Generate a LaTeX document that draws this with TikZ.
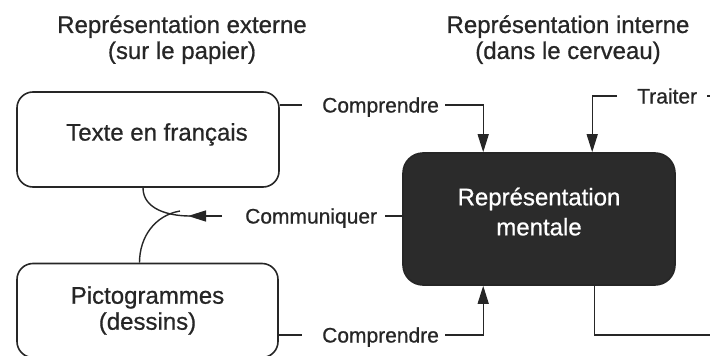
\documentclass[tikz,border=0pt]{standalone}
\usepackage{fontspec}
\setmainfont{Liberation Sans}
\newfontfamily\epais{Liberation Sans}[FakeBold=0.7]
\usetikzlibrary{arrows.meta,positioning}

\tikzset{
  boite/.style={draw=black!85, line width=1.6pt, rounded corners=16pt, inner sep=0pt},
  grand/.style={font=\epais\fontsize{24}{26}\selectfont, text=black!85, align=center, inner sep=0pt},
  titre/.style={grand},
  petit/.style={font=\epais\fontsize{21}{22}\selectfont, text=black!85, inner sep=0pt, text height=15pt, text depth=0pt},
  lien/.style={draw=black!85, line width=1.4pt},
  fleche/.style={lien, -{Triangle[length=18pt,width=11pt]}},
}

\begin{document}
\begin{tikzpicture}[x=1pt,y=-1pt]
\useasboundingbox (0,0) rectangle (710,356);
\clip (0,0) rectangle (710,356);

\node[titre] (externe) at (182,39.6) {Représentation externe\\(sur le papier)};
\node[titre] (interne) at (568,39.6) {Représentation interne\\(dans le cerveau)};

\begin{scope}
\node[boite, minimum width=262pt, minimum height=95pt] (texte) at (148,139.5) {};
\node[grand, text height=17.2pt, text depth=0pt] (texteLbl) at (157,132) {Texte en français};
\node[boite, grand, minimum width=261pt, minimum height=94pt] (picto) at (147.5,310.5) {Pictogrammes\\(dessins)};
\end{scope}

\node[boite, grand, fill=black!83, text=white, rounded corners=20pt,
      minimum width=272pt, minimum height=132pt, text depth=15pt,
      font=\epais\fontsize{24}{30}\selectfont] (mentale) at (539,219) {Représentation\\mentale};

\node[petit, anchor=west] (comprendreA) at (322,105) {Comprendre};
\node[petit, anchor=west] (communiquer) at (245,216) {Communiquer};
\node[petit, anchor=west] (comprendreB) at (322,335) {Comprendre};
\node[petit, anchor=west] (traiter) at (637,96) {Traiter};
\coordinate (jonction) at (188,216);
\coordinate (bordA) at (716,96);
\coordinate (bordB) at (716,335);

\draw[lien] (texte.east |- comprendreA) -- ([xshift=-20]comprendreA.west);
\draw[fleche] ([xshift=6]comprendreA.east) -| ([xshift=81]mentale.north west);

\draw[lien] (picto.east |- comprendreB) -- ([xshift=-20]comprendreB.west);
\draw[fleche] ([xshift=6]comprendreB.east) -| ([xshift=81]mentale.south west);

\draw[fleche] ([xshift=-20]traiter.west) -| ([xshift=190]mentale.north west);
\draw[lien] ([xshift=10]traiter.east) -- (bordA);
\draw[lien] ([xshift=192]mentale.south west) |- (bordB);

\draw[lien] (mentale.west |- communiquer) -- ([xshift=8]communiquer.east);
\draw[fleche] ([xshift=-23]communiquer.west) -- (jonction);
\draw[lien] ([xshift=-5]texte.south) to[out=-90,in=180] ([xshift=2]jonction);
\draw[lien] ([xshift=-8]picto.north) to[out=90,in=190] ([xshift=-8,yshift=5]jonction);
\end{tikzpicture}
\end{document}
